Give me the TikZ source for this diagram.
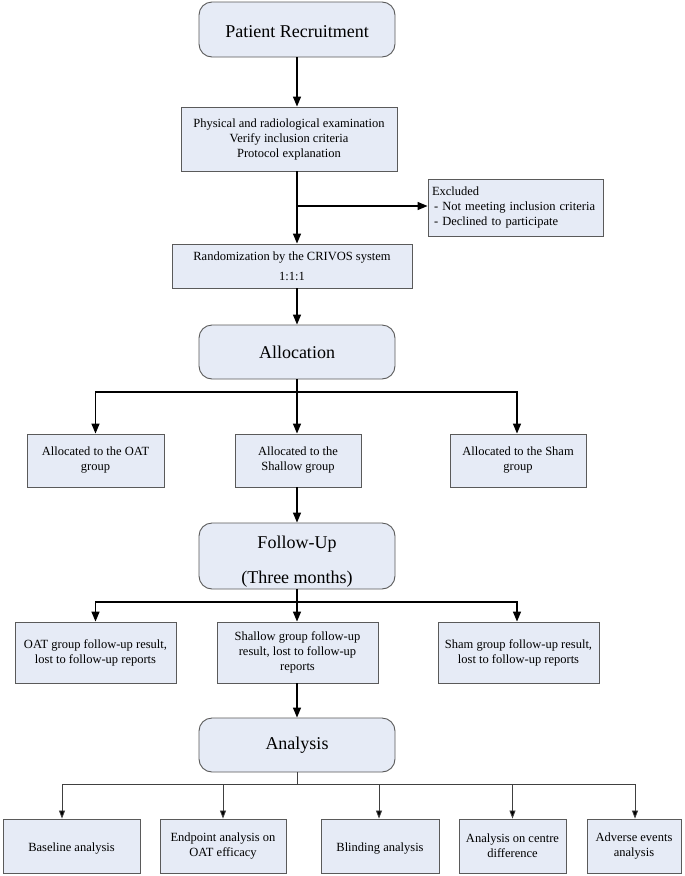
\documentclass[tikz,border=0pt]{standalone}
\usepackage{fontspec}
\setmainfont{Liberation Serif}
\usetikzlibrary{arrows.meta}
\definecolor{boxfill}{HTML}{E6EBF6}
\definecolor{boxline}{HTML}{5A5A5A}
\tikzset{
  box/.style={draw=boxline, fill=boxfill, line width=0.9pt, align=center, inner sep=2pt,
    font=\fontsize{12.5}{15}\selectfont},
  headbox/.style={box, rounded corners=13pt, minimum width=196pt,
    font=\fontsize{18}{22}\selectfont},
  conn/.style={line width=1.4pt, -{Triangle[width=8pt,length=10pt]}},
  plain/.style={line width=1.4pt},
  thinconn/.style={line width=0.8pt, draw=black!75, -{Triangle[width=6pt,length=8pt,fill=black]}},
  thinline/.style={line width=0.8pt, draw=black!75},
}
\begin{document}
\begin{tikzpicture}[x=1pt,y=-1pt]
\path[use as bounding box, fill=white] (0,0) rectangle (685,876);

% nodes
\node[headbox, minimum height=55pt] (pr) at (297,29.5) {\rule{0pt}{17pt}Patient Recruitment};
\node[box, minimum width=216pt, minimum height=64pt] (phys) at (289,139)
  {Physical and radiological examination\\Verify inclusion criteria\\Protocol explanation};
\node[box, align=left, text width=167pt, inner xsep=4pt, minimum height=57pt] (excl) at (515.5,207.5)
  {Excluded\\ \hspace*{2pt}- Not meeting inclusion criteria\\ \hspace*{2pt}- Declined to participate};
\node[box, minimum width=240pt, minimum height=44pt, font=\fontsize{12.5}{20}\selectfont] (rand) at (292,266)
  {Randomization by the CRIVOS system\\1:1:1};
\node[headbox, minimum height=54pt] (alloc) at (297,352) {Allocation};

\node[box, minimum width=137pt, minimum height=53pt] (a1) at (95.5,460.5) {Allocated to the OAT\\group};
\node[box, minimum width=126pt, minimum height=53pt] (a2) at (298,460.5) {Allocated to the\\Shallow group};
\node[box, minimum width=136pt, minimum height=53pt] (a3) at (518,460.5) {Allocated to the Sham\\group};

\node[headbox, minimum height=66pt] (fu) at (297,556) {\rule{0pt}{23pt}Follow-Up\\[13pt](Three months)};

\node[box, minimum width=161pt, minimum height=61pt] (f1) at (95.5,652.5) {OAT group follow-up result,\\lost to follow-up reports};
\node[box, minimum width=161pt, minimum height=61pt] (f2) at (297.5,652.5) {Shallow group follow-up\\result, lost to follow-up\\reports};
\node[box, minimum width=161pt, minimum height=61pt] (f3) at (518.5,652.5) {Sham group follow-up result,\\lost to follow-up reports};

\node[headbox, minimum height=54pt] (an) at (297,745) {Analysis};

\node[box, minimum width=137pt, minimum height=54pt] (b1) at (71.5,846) {\rule{0pt}{14pt}Baseline analysis};
\node[box, minimum width=126pt, minimum height=54pt] (b2) at (223,846) {Endpoint analysis on\\OAT efficacy};
\node[box, minimum width=118pt, minimum height=54pt] (b3) at (380,846) {\rule{0pt}{14pt}Blinding analysis};
\node[box, minimum width=107pt, minimum height=54pt] (b4) at (512.5,846) {Analysis on centre\\difference};
\node[box, minimum width=94pt, minimum height=54pt] (b5) at (634,846) {Adverse events\\analysis};

% junctions
\coordinate (jx) at (297,206);
\coordinate (j1) at (297,392);
\coordinate (j2) at (297,602);
\coordinate (j3) at (297,784);

% connectors
\draw[conn] (pr.south) -- (pr.south |- phys.north);
\draw[conn] (pr.south |- phys.south) -- (pr.south |- rand.north);
\draw[conn] (jx) -- (jx -| excl.west);
\draw[conn] (pr.south |- rand.south) -- (alloc.north);

\draw[plain] (alloc.south) -- (j1);
\draw[conn] (j1) -| (a1.north);
\draw[conn] (j1) -- (j1 |- a2.north);
\draw[conn] (j1) -| ([xshift=-1pt]a3.north);

\draw[conn] (j1 |- a2.south) -- (fu.north);

\draw[plain] (fu.south) -- (j2);
\draw[conn] (j2) -| (f1.north);
\draw[conn] (j2) -- (j2 |- f2.north);
\draw[conn] (j2) -| ([xshift=-1.5pt]f3.north);

\draw[conn] (j2 |- f2.south) -- (an.north);

\draw[thinline] (an.south) -- (j3);
\draw[thinconn] (j3) -| ([xshift=-9.5pt]b1.north);
\draw[thinconn] (j3) -| (b2.north);
\draw[thinconn] (j3) -| ([xshift=-1pt]b3.north);
\draw[thinconn] (j3) -| (b4.north);
\draw[thinconn] (j3) -| ([xshift=1pt]b5.north);
\end{tikzpicture}
\end{document}
